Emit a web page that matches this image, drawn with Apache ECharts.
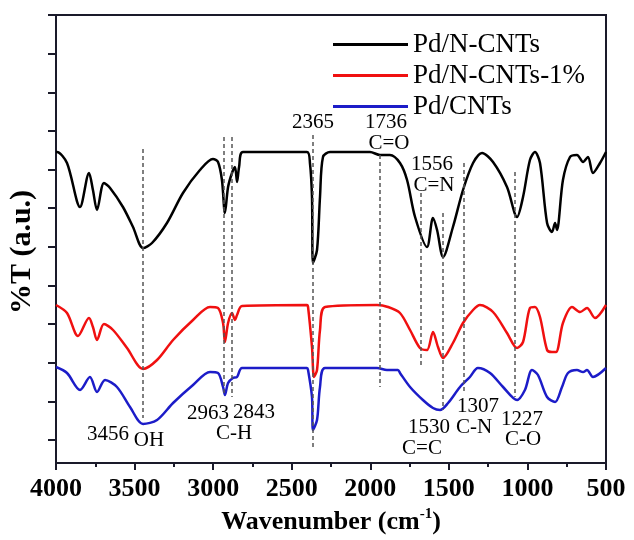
<!DOCTYPE html>
<html>
<head>
<meta charset="utf-8">
<script src="https://cdn.jsdelivr.net/npm/echarts@6/dist/echarts.min.js"></script>
<style>html,body{margin:0;padding:0;background:#fff}#c{width:634px;height:540px}</style>
</head>
<body>
<div id="c"></div>
<script>
// ---- data (wavenumber cm^-1, %T a.u.) ----
const seriesNames = ['Pd/N-CNTs', 'Pd/N-CNTs-1%', 'Pd/CNTs'];
const xTicks = [4000, 3500, 3000, 2500, 2000, 1500, 1000, 500];
const yTicks = [112, 102.34, 92.68, 83.02, 73.36, 63.7, 54.05, 44.39, 34.73, 25.07, 15.41, 5.75];

const pdNCNTs = [
  [4000,77.75],[3994,77.75],[3930,75],[3847,64],[3790,72.5],[3765,68.25],[3739,63.25],[3695,70],
  [3656,68.75],[3574,64],[3510,59],[3446,53.75],[3389,55],[3294,60],[3192,67.5],[3084,73.25],
  [3001,76],[2969,75.25],[2944,70.75],[2925,62.5],[2905,69],[2880,72.5],[2861,74],[2848,70.25],
  [2835,74],[2810,77.75],[2403,77.75],[2384,75],[2371,66.5],[2365,50],[2339,53.25],[2320,66.5],
  [2301,76.5],[2256,77.75],[2002,77.75],[1938,77],[1875,77],[1811,75],[1766,70.75],[1715,61.5],
  [1639,54],[1601,61.25],[1575,58.25],[1537,51.5],[1474,59],[1410,68.25],[1346,75],[1289,77.5],
  [1219,75.25],[1130,69],[1066,61.5],[1028,66.5],[984,75.75],[952,77.75],[920,75],[875,60],
  [844,57.75],[824,60],[812,58.25],[774,70.75],[729,76.5],[685,77],[646,75.25],[615,76.5],
  [583,72.5],[538,75],[500,77.75]
];
const pdNCNTs1 = [
  [4000,39.5],[3930,37.5],[3860,31.75],[3790,36.25],[3765,34],[3739,30.75],[3695,34.75],[3637,33.25],
  [3548,28.75],[3446,23.5],[3357,25.75],[3255,30.75],[3128,35.75],[3020,39],[2969,38.75],[2937,35],
  [2925,30.25],[2905,35],[2880,37.5],[2861,35.75],[2848,37],[2816,39.25],[2403,39.5],[2396,39],
  [2371,29],[2358,21.5],[2339,23.25],[2320,33.25],[2288,39],[1957,39.5],[1887,39],[1811,37.5],
  [1747,33.25],[1684,28.75],[1639,28.25],[1601,32.75],[1569,29],[1537,26.25],[1474,30],[1410,35],
  [1346,38.25],[1302,39.5],[1219,37.75],[1130,32.5],[1066,28.75],[1028,30.25],[984,38.75],[952,39],
  [920,36.5],[875,28.25],[844,27.75],[818,27.75],[774,35],[716,39],[665,37.75],[621,38.75],
  [570,36.25],[500,39.5]
];
const pdCNTs = [
  [4000,24],[3930,22.5],[3847,18.25],[3784,21.5],[3739,17.75],[3688,20.75],[3612,19],[3529,14],
  [3446,9.75],[3357,10.75],[3255,15],[3128,19.5],[3020,22.75],[2969,22.5],[2937,19],[2925,17],
  [2905,20],[2874,21.25],[2848,21.5],[2816,23.75],[2403,23.75],[2396,23.25],[2371,16.5],[2365,8.25],
  [2339,10.75],[2320,19],[2288,23.75],[1957,23.75],[1894,23.25],[1824,23.25],[1811,22.5],[1747,19],
  [1665,15.75],[1601,13.75],[1556,13.25],[1505,15],[1429,19],[1366,21.5],[1315,23.75],[1238,22.5],
  [1155,19],[1066,15.75],[1016,18.25],[971,23.25],[933,22],[875,16.5],[824,15.25],[780,19],
  [742,22.5],[685,23.25],[646,22.75],[621,23.25],[583,21.5],[500,23.75]
];
// dashed guide lines: [wavenumber, yTop, yBottom]
const guideLines = [
  [3446,78.5,11.25],[2931,81.5,17],[2880,81.5,16.5],[2364,82,4],[1938,77,19],
  [1679,67.5,23.75],[1539,62.5,13.25],[1404,75,17.5],[1079,72.75,16.5]
];
// peak annotations: [text, wavenumber, y]
const annotations = [
  ['2365',2365,85.25],['1736',1900,85.25],['C=O',1881,80],['1556',1607,74.75],['C=N',1595,69.5],
  ['3456',3669,7.25],['OH',3408,5.75],['2963',3033,12.5],['2843',2740,12.75],['C-H',2867,7.5],
  ['1530',1626,9],['C=C',1671,3.75],['1307',1315,14.25],['C-N',1340,9],['1227',1035,11],['C-O',1028,6]
];

// ---- chart ----
const AX = '#1a1a2a';
const FONT = 'Liberation Serif';
const colors = ['#000000', '#f01010', '#1c1cc8'];
const chart = echarts.init(document.getElementById('c'), null, {renderer: 'canvas'});

const lineSeries = [pdNCNTs, pdNCNTs1, pdCNTs].map((d, i) => ({
  name: seriesNames[i],
  type: 'line',
  data: d,
  symbol: 'none',
  smooth: 0.3,
  lineStyle: {color: colors[i], width: 2.5},
  itemStyle: {color: colors[i]},
  z: 3
}));

lineSeries[0].markLine = {
  silent: true,
  symbol: ['none', 'none'],
  label: {show: false},
  animation: false,
  lineStyle: {color: '#555', type: [4, 3], width: 1.5},
  data: guideLines.map(g => [{coord: [g[0], g[1]]}, {coord: [g[0], g[2]]}])
};

const annLabel = {show: true, position: 'inside', color: '#000', opacity: 1, fontFamily: FONT, fontSize: 21, textBorderWidth: 0};
const annSeries = {
  type: 'scatter',
  symbolSize: 0.1,
  itemStyle: {color: '#fff', opacity: 1},
  silent: true,
  z: 5,
  data: annotations.map(a => ({
    value: [a[1], a[2]],
    label: Object.assign({}, annLabel, {formatter: a[0]})
  })),
  label: annLabel
};

chart.setOption({
  animation: false,
  backgroundColor: '#fff',
  grid: {left: 56, right: 28, top: 15, bottom: 77, show: true, borderColor: AX, borderWidth: 2,
         outerBoundsMode: 'none', containLabel: false},
  legend: {
    data: seriesNames,
    orient: 'vertical',
    left: 328,
    top: 26,
    itemWidth: 75,
    itemHeight: 3,
    itemGap: 4,
    icon: 'rect',
    textStyle: {fontFamily: FONT, fontSize: 27, color: '#000', lineHeight: 22}
  },
  xAxis: {
    type: 'value',
    inverse: true,
    min: 500,
    max: 4000,
    interval: 500,
    name: '{b|Wavenumber (cm}{s|-1}{b|)}',
    nameLocation: 'middle',
    nameGap: 42,
    nameTextStyle: {
      rich: {
        b: {fontFamily: FONT, fontWeight: 'bold', fontSize: 26, color: '#000', lineHeight: 30},
        s: {fontFamily: FONT, fontWeight: 'bold', fontSize: 15, color: '#000', verticalAlign: 'top', lineHeight: 30}
      }
    },
    axisLine: {show: true, lineStyle: {color: AX, width: 2}},
    axisTick: {show: true, inside: false, length: 7, lineStyle: {color: AX, width: 2}},
    minorTick: {show: true, splitNumber: 2, length: 4, lineStyle: {color: AX, width: 2}},
    axisLabel: {
      fontFamily: FONT, fontWeight: 'bold', fontSize: 26, color: '#000', margin: 13,
      customValues: xTicks,
      formatter: v => String(v)
    },
    splitLine: {show: false},
    minorSplitLine: {show: false}
  },
  yAxis: {
    type: 'value',
    min: 0,
    max: 112,
    name: '%T (a.u.)',
    nameLocation: 'middle',
    nameGap: 19,
    nameTextStyle: {fontFamily: FONT, fontWeight: 'bold', fontSize: 30, color: '#000', padding: [0, 26, 0, 0]},
    axisLine: {show: true, lineStyle: {color: AX, width: 2}},
    axisTick: {show: true, inside: false, length: 8, lineStyle: {color: AX, width: 2}, customValues: yTicks},
    axisLabel: {show: false},
    splitLine: {show: false}
  },
  series: [...lineSeries, annSeries]
});
</script>
</body>
</html>
